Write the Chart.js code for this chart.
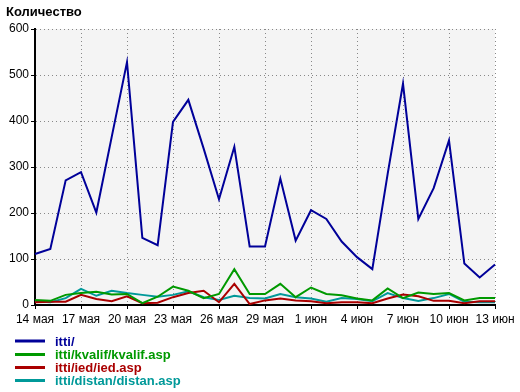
<!DOCTYPE html>
<html>
<head>
<meta charset="utf-8">
<script src="https://cdn.jsdelivr.net/npm/chart.js@4.4.0/dist/chart.umd.min.js"></script>
<style>
    html, body { margin: 0; padding: 0; background: #fff; }
    canvas { display: block; }
</style>
</head>
<body>
<canvas id="chart" width="520" height="392"></canvas>
<script>
// Dados do gráfico
const dias = [
    '14 мая', '15 мая', '16 мая', '17 мая', '18 мая', '19 мая', '20 мая', '21 мая',
    '22 мая', '23 мая', '24 мая', '25 мая', '26 мая', '27 мая', '28 мая', '29 мая',
    '30 мая', '31 мая', '1 июн', '2 июн', '3 июн', '4 июн', '5 июн', '6 июн',
    '7 июн', '8 июн', '9 июн', '10 июн', '11 июн', '12 июн', '13 июн'
];
const diasVisiveis = ['14 мая', '17 мая', '20 мая', '23 мая', '26 мая', '29 мая',
    '1 июн', '4 июн', '7 июн', '10 июн', '13 июн'];

const itti = [111, 122, 271, 289, 201, 365, 528, 146, 130, 398, 446, 340, 230, 344, 127, 127,
    275, 140, 206, 187, 138, 104, 78, 285, 481, 187, 254, 358, 90, 60, 88];
const kvalif = [11, 9, 22, 26, 29, 23, 24, 4, 18, 40, 31, 15, 24, 78, 24, 24,
    46, 17, 38, 24, 21, 14, 10, 36, 15, 27, 24, 26, 10, 15, 15];
const ied = [6, 7, 7, 22, 13, 8, 19, 4, 5, 17, 26, 31, 6, 46, 2, 10,
    14, 10, 8, 4, 6, 6, 4, 14, 23, 19, 9, 9, 4, 8, 8];
const distan = [8, 6, 15, 35, 20, 31, 26, 22, 18, 22, 30, 17, 11, 20, 15, 14,
    24, 17, 14, 7, 15, 13, 8, 26, 15, 9, 15, 24, 7, 6, 6];

const nomes = ['itti/', 'itti/kvalif/kvalif.asp', 'itti/ied/ied.asp', 'itti/distan/distan.asp'];
const cores = ['#000099', '#009900', '#aa0000', '#009999'];

const FONTE = 'Arial, "Liberation Sans", sans-serif';
Chart.defaults.font.family = FONTE;
Chart.defaults.font.size = 12;
Chart.defaults.color = '#000';

// Fundo cinza da área do gráfico
const fundoArea = {
    id: 'fundoArea',
    beforeDraw(chart) {
        const { ctx, chartArea: a } = chart;
        ctx.save();
        ctx.fillStyle = '#f4f4f4';
        ctx.fillRect(a.left, a.top, a.right - a.left, a.bottom - a.top);
        ctx.restore();
    }
};

// Título do eixo e legenda vertical embaixo
const tituloELegenda = {
    id: 'tituloELegenda',
    afterDraw(chart) {
        const ctx = chart.ctx;
        ctx.save();
        ctx.font = 'bold 13px ' + FONTE;
        ctx.textBaseline = 'middle';
        ctx.fillStyle = '#000';
        ctx.fillText('Количество', 6, 12);

        const linhasY = [341, 354.5, 367.5, 380.5];
        nomes.forEach((nome, i) => {
            const y = linhasY[i];
            ctx.strokeStyle = cores[i];
            ctx.lineWidth = 3;
            ctx.beginPath();
            ctx.moveTo(15, y);
            ctx.lineTo(45, y);
            ctx.stroke();
            ctx.fillStyle = cores[i];
            ctx.fillText(nome, 55, y + 1);
        });
        ctx.restore();
    }
};

const series = [itti, kvalif, ied, distan];

new Chart(document.getElementById('chart').getContext('2d'), {
    type: 'line',
    data: {
        labels: dias,
        datasets: series.map((dados, i) => ({
            label: nomes[i],
            data: dados,
            borderColor: cores[i],
            backgroundColor: cores[i],
            borderWidth: 2,
            pointRadius: 0,
            tension: 0,
            fill: false
        }))
    },
    options: {
        responsive: false,
        animation: false,
        devicePixelRatio: 1,
        layout: { padding: { top: 29, right: 25, left: 0, bottom: 0 } },
        plugins: {
            legend: { display: false },
            tooltip: { enabled: false }
        },
        scales: {
            x: {
                afterFit(scale) { scale.height = 87; },
                border: { color: '#000', width: 2, dash: [1, 3] },
                grid: {
                    color: '#888',
                    tickColor: '#000',
                    tickBorderDash: [],
                    tickLength: 4
                },
                ticks: {
                    autoSkip: false,
                    maxRotation: 0,
                    padding: 3,
                    callback(value) {
                        const rotulo = this.getLabelForValue(value);
                        return diasVisiveis.includes(rotulo) ? rotulo : null;
                    }
                }
            },
            y: {
                min: 0,
                max: 600,
                afterFit(scale) { scale.width = 35; },
                border: { color: '#000', width: 2, dash: [1, 3] },
                grid: {
                    color: '#888',
                    tickColor: '#000',
                    tickBorderDash: [],
                    tickLength: 4
                },
                ticks: { stepSize: 100, padding: 2 }
            }
        }
    },
    plugins: [fundoArea, tituloELegenda]
});
</script>
</body>
</html>
